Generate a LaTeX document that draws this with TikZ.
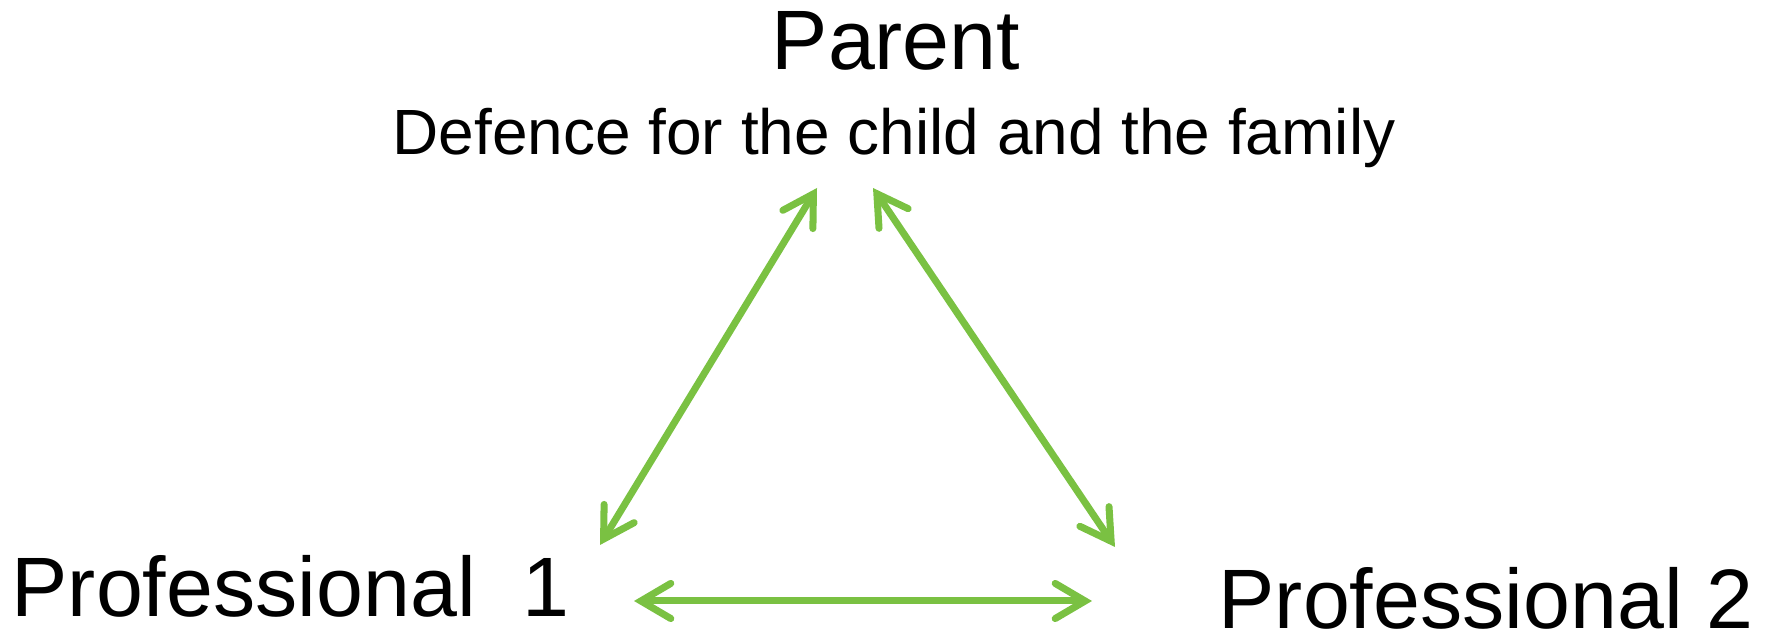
\documentclass[tikz,border=0pt]{standalone}
\usepackage{fontspec}
\setmainfont{Liberation Sans}
\usepackage{tikz}
\usetikzlibrary{arrows.meta, positioning}
\definecolor{vertLien}{RGB}{122, 193, 66}

\begin{document}
\begin{tikzpicture}[
  role/.style={inner sep=0pt, font=\fontsize{24}{28}\selectfont},
  sousrole/.style={inner sep=0pt, font=\fontsize{18.2}{22}\selectfont},
  lien/.style={line width=2pt, draw=vertLien,
    {Straight Barb[length=8.5pt,width=10pt,line cap=round]}-{Straight Barb[length=8.5pt,width=10pt,line cap=round]}},
]
\useasboundingbox (0,0) rectangle (17.75,6.39);
\node[role, anchor=base]          (parent) at (8.96, 5.69) {Parent};
\node[sousrole, anchor=base]      (defence) at (8.94, 4.84) {Defence for the child and the family};
\node[role, anchor=base west]     (pro1) at (0.11, 0.22) {Professional\ \ 1};
\node[role, anchor=base west]     (pro2) at (12.18, 0.10) {Professional 2};
\coordinate (p1haut) at (8.17, 4.51);
\coordinate (p1bas)  at (6.00, 0.94);
\coordinate (p2haut) at (8.73, 4.51);
\coordinate (p2bas)  at (11.15, 0.92);
\coordinate (p1droite) at (6.34, 0.38);
\coordinate (p2gauche) at (10.92, 0.38);
\draw[lien] (p1haut) -- (p1bas);
\draw[lien] (p2haut) -- (p2bas);
\draw[lien] (p1droite) -- (p2gauche);
\end{tikzpicture}
\end{document}
